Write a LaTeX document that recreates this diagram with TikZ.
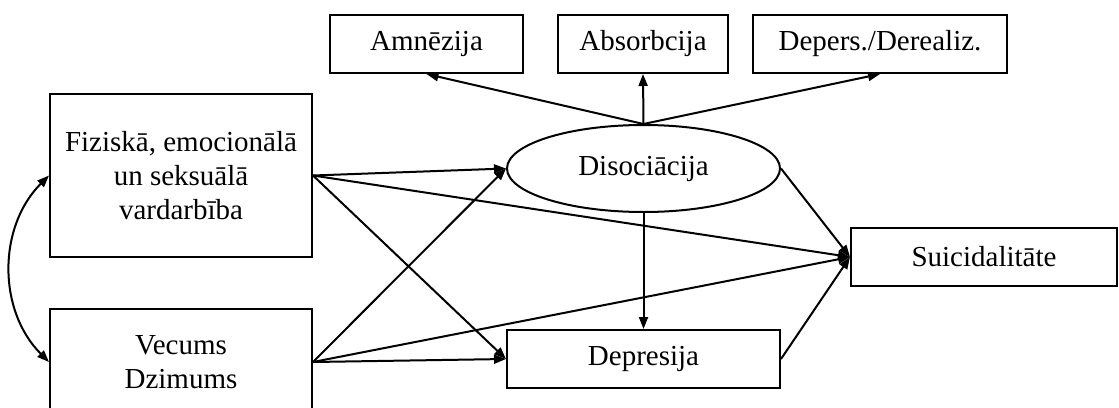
\documentclass[tikz,border=0pt]{standalone}
\usepackage{fontspec}
\setmainfont{Liberation Serif}
\usetikzlibrary{arrows.meta, shapes.geometric}

\begin{document}
\begin{tikzpicture}[x=0.5pt, y=-0.5pt,
                    font=\fontsize{14.5}{17}\selectfont,
                    box/.style={rectangle, draw, line width=1pt, align=center, inner sep=0pt},
                    latent/.style={ellipse, draw, line width=1pt, inner sep=0pt, minimum width=136.5pt, minimum height=43.5pt},
                    path_a/.style={-{Triangle[length=6pt, width=4.5pt]}, line width=1pt},
                    corr/.style={{Triangle[length=6pt, width=4.5pt]}-{Triangle[length=6pt, width=4.5pt]}, line width=1pt}]

            \path[use as bounding box, clip] (0,0) rectangle (1119,407);

            \node[box, minimum width=131pt, minimum height=81.5pt] (fiz) at (181,175.5) {Fiziskā, emocionālā\\un seksuālā\\vardarbība};
            \node[box, minimum width=131pt, minimum height=53pt]   (vec) at (181,362)   {Vecums\\Dzimums};

            \node[box, minimum width=96.5pt, minimum height=29pt] (amn) at (426.5,44) {Amnēzija};
            \node[box, minimum width=85pt,   minimum height=29pt] (abs) at (643,44)   {Absorbcija};
            \node[box, minimum width=127pt,  minimum height=29pt] (der) at (880,44)   {Depers./Derealiz.};

            \node[latent] (dis) at (643.5,168.5) {Disociācija};
            \node[box, minimum width=136.5pt, minimum height=29pt] (dep) at (643.5,359) {Depresija};
            \node[box, minimum width=133pt,   minimum height=29pt] (sui) at (984,257)   {Suicidalitāte};

            \draw[path_a] (dis.north) to (amn.south);
            \draw[path_a] (dis.north) to (abs.south);
            \draw[path_a] (dis.north) to (der.south);

            \draw[path_a] (fiz.east) to (dis.west);
            \draw[path_a] (fiz.east) to (sui.west);
            \draw[path_a] (fiz.east) to (dep.west);

            \draw[path_a] (vec.east) to (dis.west);
            \draw[path_a] (vec.east) to (sui.west);
            \draw[path_a] (vec.east) to (dep.west);

            \draw[path_a] (dis.south) to (dep.north);
            \draw[path_a] (dis.east) to (sui.west);
            \draw[path_a] (dep.east) to (sui.west);

            \draw[corr] (fiz.west) to[bend right=45] (vec.west);
        \end{tikzpicture}
\end{document}
